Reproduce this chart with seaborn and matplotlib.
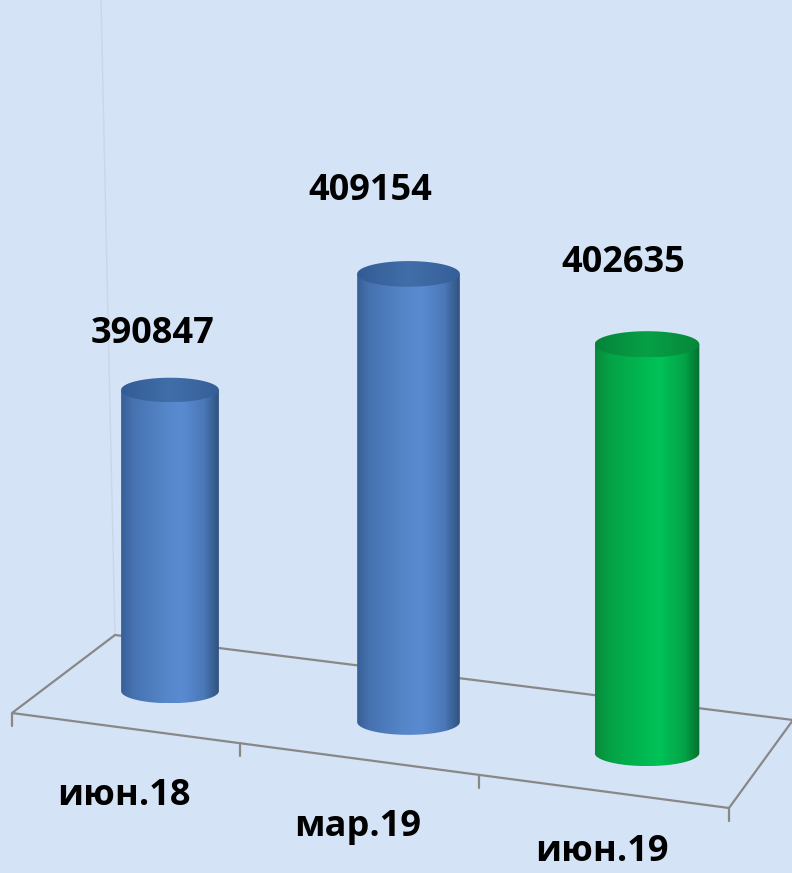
import numpy as np
import matplotlib
matplotlib.use("Agg")
import matplotlib.pyplot as plt
import seaborn as sns
from matplotlib.transforms import Affine2D
from matplotlib.patches import PathPatch
from matplotlib.path import Path
from matplotlib.colors import LinearSegmentedColormap

# ---- data -------------------------------------------------------------
months = ["июн.18", "мар.19", "июн.19"]
values = [390847, 409154, 402635]
fill_colors = ["#4f81bd", "#4f81bd", "#00b050"]

# ---- layout (pixels) --------------------------------------------------
W, H = 792, 873
BG = "#d5e3f7"
X0, DX = 170.0, 238.5          # pixel x of first category, spacing
BASE_PX = 691.0                # pixel y of the floor under the first bar
K = 0.006866                   # pixels per value unit (first bar depth)
V0 = 347000                    # value axis floor
DROP = 31.0                    # floor drops this many pixels per category
DEPTH = [1.0, 1.05, 1.07]      # perspective scale of each bar
CAP = 0.25                     # ellipse minor/major ratio
label_offsets = [(-18, 47), (-38, 74), (-24, 72)]   # value labels, pixels
cat_label_drop = [77, 77, 70]                        # category label baselines

# floor outline (pixel coordinates)
floor_back_left = (115, 635)
floor_front_left = (12, 713)
floor_front_right = (729, 808)
floor_back_right = (793, 720)

sns.set_theme(style="white")
plt.rcParams["font.family"] = ["Open Sans", "DejaVu Sans"]

fig = plt.figure(figsize=(W / 100, H / 100), dpi=100)
fig.patch.set_facecolor(BG)

# ---- floor / walls layer ----------------------------------------------
frame = fig.add_axes([0, 0, 1, 1], zorder=1)
frame.set_xlim(0, W)
frame.set_ylim(H, 0)
frame.axis("off")

# faint back-wall edge
frame.plot([101, floor_back_left[0]], [0, floor_back_left[1]],
           color="#cbd7e8", lw=1.0, zorder=1)

fx = [floor_front_right[0], floor_front_left[0], floor_back_left[0],
      floor_back_right[0], floor_front_right[0]]
fy = [floor_front_right[1], floor_front_left[1], floor_back_left[1],
      floor_back_right[1], floor_front_right[1]]
frame.plot(fx, fy, color="#888888", lw=1.6, solid_joinstyle="miter", zorder=2)

# ticks along the front edge and category labels
fl = np.array(floor_front_left, float)
fr = np.array(floor_front_right, float)
tick_fr = [0.0, 0.318, 0.652, 1.0]
tick_pts = [fl + t * (fr - fl) for t in tick_fr]
for p in tick_pts:
    frame.plot([p[0], p[0]], [p[1], p[1] + 13], color="#888888", lw=1.6, zorder=2)
for i, m in enumerate(months):
    mid = (tick_pts[i] + tick_pts[i + 1]) / 2
    frame.text(mid[0] - 2, mid[1] + cat_label_drop[i], m, ha="center",
               va="baseline", fontsize=26, fontweight="bold", color="black")

# ---- bars -------------------------------------------------------------
ax = fig.add_axes([0, 0, 1, 1], zorder=2)
ax.patch.set_alpha(0)
sns.barplot(x=months, y=values, hue=months, palette=fill_colors,
            width=0.41, legend=False, ax=ax)

xlim = (-X0 / DX, (W - X0) / DX)
ylim = (V0 - (H - BASE_PX) / K, V0 + BASE_PX / K)

gradients = {
    "#4f81bd": (
        LinearSegmentedColormap.from_list("b_body", [
            (0.0, "#375f97"), (0.12, "#4672b0"), (0.45, "#5586c9"),
            (0.62, "#5a8bd2"), (0.85, "#4a78b8"), (1.0, "#30527f")]),
        LinearSegmentedColormap.from_list("b_top", [
            (0.0, "#335c94"), (0.5, "#416ea9"), (1.0, "#365f98")]),
    ),
    "#00b050": (
        LinearSegmentedColormap.from_list("g_body", [
            (0.0, "#088a3b"), (0.15, "#05a346"), (0.5, "#00bb53"),
            (0.62, "#00c257"), (0.85, "#03a447"), (1.0, "#056f30")]),
        LinearSegmentedColormap.from_list("g_top", [
            (0.0, "#07843a"), (0.5, "#06a046"), (1.0, "#07863a")]),
    ),
}

bars = sorted(ax.patches, key=lambda p: p.get_x())
grad = np.linspace(0, 1, 256).reshape(1, -1)
t_low = np.linspace(np.pi, 2 * np.pi, 90)
t_all = np.linspace(0, 2 * np.pi, 180)

for i, p in enumerate(bars):
    w = p.get_width()
    xc = p.get_x() + w / 2
    v = p.get_height()
    hw = w / 2
    e = CAP * hw * DX / K
    color = fill_colors[i]
    p.remove()

    # perspective: scale about the floor point, then drop along the floor
    s = DROP / K
    tr = (Affine2D().translate(-xc, -V0).scale(DEPTH[i], DEPTH[i])
          .translate(xc, V0 - s * xc))

    body = np.vstack([
        [[xc - hw, v], [xc - hw, V0]],
        np.column_stack([xc + hw * np.cos(t_low), V0 + e * np.sin(t_low)]),
        [[xc + hw, V0], [xc + hw, v], [xc - hw, v]],
    ])
    body = tr.transform(body)
    body_patch = PathPatch(Path(body, closed=True), facecolor="none",
                           edgecolor="none", transform=ax.transData)
    ax.add_patch(body_patch)
    x_lo, x_hi = body[:, 0].min(), body[:, 0].max()
    y_lo, y_hi = body[:, 1].min(), body[:, 1].max()
    im = ax.imshow(grad, cmap=gradients[color][0], aspect="auto",
                   extent=(x_lo, x_hi, y_lo, y_hi), interpolation="bilinear",
                   zorder=3)
    im.set_clip_path(body_patch)

    top = tr.transform(np.column_stack([xc + hw * np.cos(t_all),
                                        v + e * np.sin(t_all)]))
    top_patch = PathPatch(Path(top, closed=True), facecolor="none",
                          edgecolor="none", transform=ax.transData)
    ax.add_patch(top_patch)
    im2 = ax.imshow(grad, cmap=gradients[color][1], aspect="auto",
                    extent=(top[:, 0].min(), top[:, 0].max(),
                            top[:, 1].min(), top[:, 1].max()),
                    interpolation="bilinear", zorder=4)
    im2.set_clip_path(top_patch)

    anchor = tr.transform([[xc, v]])[0]
    ax.annotate(f"{values[i]:d}", xy=anchor, xytext=label_offsets[i],
                textcoords="offset pixels", ha="center", va="baseline",
                fontsize=26, fontweight="bold", color="black", zorder=5)

ax.set_xlim(*xlim)
ax.set_ylim(*ylim)
ax.axis("off")

fig.savefig("out.png", dpi=100, facecolor=BG)
